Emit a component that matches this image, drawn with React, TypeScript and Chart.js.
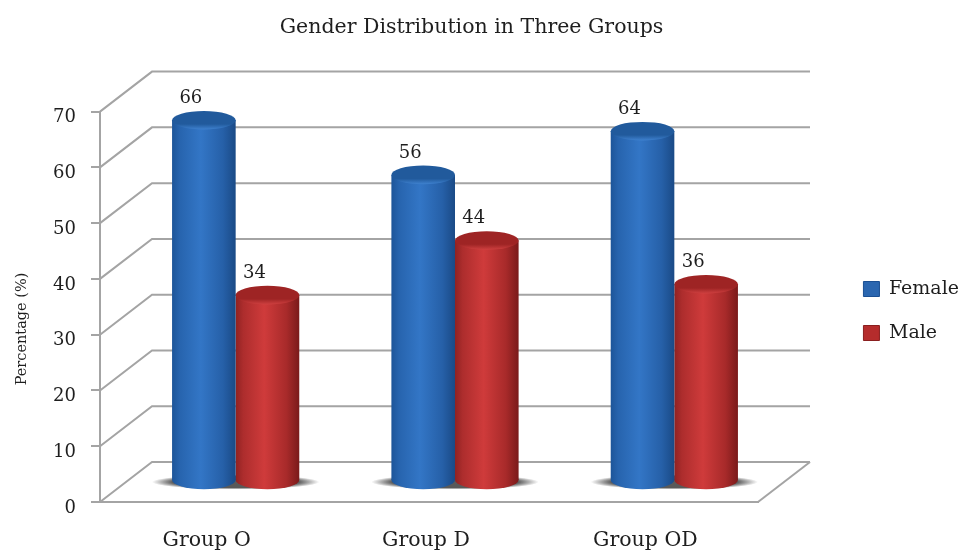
import React, { useEffect, useRef } from "react";
import { Chart, registerables } from "chart.js";

Chart.register(...registerables);

const categories = ["Group O", "Group D", "Group OD"];
const female = [66, 56, 64];
const male = [34, 44, 36];
const yTitle = "Percentage (%)";
const chartTitle = "Gender Distribution in Three Groups";
const FONT = '"DejaVu Serif", serif';
const TEXT = "#1e1e1e";
const GRID = "#a4a4a4";

// 3D geometry of the box, as screen offsets
const DEPTH_X = 52;
const DEPTH_Y = -40;
const BAR_DX = 26;
const BAR_BASE = 481;
const BAR_K = 0.98;
const RY = 9.5;
const CAT_PCT = 0.58;

const blueStops: [number, string][] = [[0, "#1d5599"], [0.12, "#2764ae"], [0.45, "#3376c6"], [0.8, "#2660a8"], [1, "#1a4a86"]];
const redStops: [number, string][] = [[0, "#8f2222"], [0.12, "#ad2d2d"], [0.45, "#cf3b3b"], [0.8, "#a82a2a"], [1, "#7a1a1a"]];
const topColors = [["#215a9c", "#3f82d0"], ["#9e2424", "#cf4040"]];

function bodyFill(stops: [number, string][], dsIndex: number) {
  return (c: any) => {
    const chart = c.chart;
    const sx = chart.scales.x;
    if (!chart.chartArea || !sx) return stops[2][1];
    const w = ((sx.width / categories.length) * CAT_PCT) / 2;
    const center = sx.getPixelForValue(c.dataIndex ?? 0) + (dsIndex === 0 ? -w / 2 : w / 2);
    const g = chart.ctx.createLinearGradient(center - w / 2, 0, center + w / 2, 0);
    stops.forEach(([p, col]) => g.addColorStop(p, col));
    return g;
  };
}

const mapY = (area: any, y: number) => BAR_BASE + (y - area.bottom) * BAR_K;

const box3d = {
  id: "box3d",
  afterLayout(chart: any) {
    if (chart.titleBlock) {
      chart.titleBlock.left -= 10;
      chart.titleBlock.right -= 10;
    }
    if (chart.legend) {
      chart.legend.top += 33;
      chart.legend.bottom += 33;
      chart.legend.left += 6;
      chart.legend.right += 6;
    }
  },
  beforeDatasetsDraw(chart: any) {
    const { ctx, chartArea: a, scales } = chart;
    const y = scales.y;
    ctx.save();
    ctx.strokeStyle = GRID;
    ctx.lineWidth = 2;
    y.ticks.forEach((t: any) => {
      const py = y.getPixelForValue(t.value);
      ctx.beginPath();
      ctx.moveTo(a.left, py);
      ctx.lineTo(a.left + DEPTH_X, py + DEPTH_Y);
      ctx.lineTo(a.right + DEPTH_X, py + DEPTH_Y);
      ctx.stroke();
    });
    ctx.beginPath();
    ctx.moveTo(a.right, a.bottom);
    ctx.lineTo(a.right + DEPTH_X, a.bottom + DEPTH_Y);
    ctx.stroke();
    // soft floor shadow under each pair of bars
    scales.x.ticks.forEach((_: any, i: number) => {
      const cx = scales.x.getPixelForValue(i) + BAR_DX;
      const w = (scales.x.width / categories.length) * CAT_PCT;
      ctx.save();
      ctx.translate(cx, BAR_BASE + 1);
      ctx.scale(1, 0.09);
      const r = w / 2 + 20;
      const g = ctx.createRadialGradient(0, 0, r * 0.75, 0, 0, r);
      g.addColorStop(0, "rgba(60,60,60,0.85)");
      g.addColorStop(1, "rgba(60,60,60,0)");
      ctx.fillStyle = g;
      ctx.beginPath();
      ctx.arc(0, 0, r, 0, Math.PI * 2);
      ctx.fill();
      ctx.restore();
    });
    ctx.restore();
  },
  beforeDatasetDraw(chart: any, args: any) {
    const { ctx, chartArea: a } = chart;
    ctx.save();
    ctx.translate(BAR_DX, BAR_BASE);
    ctx.scale(1, BAR_K);
    ctx.translate(0, -a.bottom);
    args.meta.data.forEach((el: any) => {
      ctx.fillStyle = el.options.backgroundColor;
      ctx.beginPath();
      ctx.ellipse(el.x, el.base, el.width / 2, RY, 0, 0, Math.PI * 2);
      ctx.fill();
    });
  },
  afterDatasetDraw(chart: any, args: any) {
    const { ctx } = chart;
    const cols = topColors[args.index];
    args.meta.data.forEach((el: any) => {
      const g = ctx.createLinearGradient(0, el.y - RY, 0, el.y + RY);
      g.addColorStop(0, cols[0]);
      g.addColorStop(0.7, cols[0]);
      g.addColorStop(1, cols[1]);
      ctx.fillStyle = g;
      ctx.beginPath();
      ctx.ellipse(el.x, el.y, el.width / 2, RY, 0, 0, Math.PI * 2);
      ctx.fill();
    });
    ctx.restore();
  },
  afterDatasetsDraw(chart: any) {
    const { ctx, chartArea: a } = chart;
    ctx.save();
    ctx.fillStyle = TEXT;
    ctx.font = `18px ${FONT}`;
    ctx.textAlign = "center";
    ctx.textBaseline = "middle";
    chart.data.datasets.forEach((ds: any, i: number) => {
      chart.getDatasetMeta(i).data.forEach((el: any, j: number) => {
        ctx.fillText(String(ds.data[j]), el.x + BAR_DX - 13, mapY(a, el.y) - 22);
      });
    });
    ctx.translate(22, 329);
    ctx.rotate(-Math.PI / 2);
    ctx.font = `14.5px ${FONT}`;
    ctx.fillText(yTitle, 0, 0);
    ctx.restore();
  },
};

export default function App() {
  const ref = useRef<HTMLCanvasElement>(null);
  useEffect(() => {
    const chart = new Chart(ref.current as HTMLCanvasElement, {
      type: "bar",
      data: {
        labels: categories,
        datasets: [
          { label: "Female", data: female, backgroundColor: bodyFill(blueStops, 0) as any, clip: false as any },
          { label: "Male", data: male, backgroundColor: bodyFill(redStops, 1) as any, clip: false as any },
        ],
      },
      plugins: [box3d],
      options: {
        responsive: false,
        animation: false,
        datasets: { bar: { barPercentage: 1, categoryPercentage: CAT_PCT } },
        layout: { padding: 0 },
        plugins: {
          tooltip: { enabled: false },
          title: {
            display: true,
            text: chartTitle,
            color: TEXT,
            font: { family: FONT, size: 20.5, weight: "normal" },
            padding: { top: 15, bottom: 72 },
          },
          legend: {
            position: "right",
            labels: {
              color: TEXT,
              font: { family: FONT, size: 19 },
              boxWidth: 16,
              boxHeight: 15,
              padding: 25,
              generateLabels: () => [
                { text: "Female", fillStyle: "#2a66b0", strokeStyle: "#1a4f93", lineWidth: 1, datasetIndex: 0, fontColor: TEXT },
                { text: "Male", fillStyle: "#b52c2c", strokeStyle: "#8a1f1f", lineWidth: 1, datasetIndex: 1, fontColor: TEXT },
              ],
            },
          },
        },
        scales: {
          x: {
            grid: { display: false },
            border: { display: true, color: GRID, width: 2 },
            ticks: { color: TEXT, font: { family: FONT, size: 20.5 }, padding: 18, maxRotation: 0, labelOffset: -3 },
            afterFit: (s: any) => { s.height = 54; },
          },
          y: {
            min: 0,
            max: 70,
            grid: { drawOnChartArea: false, drawTicks: true, tickLength: 9, color: GRID, lineWidth: 2 },
            border: { display: true, color: GRID, width: 2 },
            ticks: { stepSize: 10, color: TEXT, font: { family: FONT, size: 18 }, padding: 15, labelOffset: 6 },
            afterFit: (s: any) => { s.width = 100; },
          },
          y2: {
            type: "linear",
            position: "right",
            display: true,
            grid: { display: false },
            border: { display: false },
            ticks: { display: false },
            afterFit: (s: any) => { s.width = 205 - (s.chart.legend?.width ?? 100); },
          },
        },
      } as any,
    });
    return () => chart.destroy();
  }, []);
  return (
    <div style={{ position: "fixed", left: 0, top: 0, width: 963, height: 556, background: "#fff" }}>
      <canvas ref={ref} width={963} height={556} style={{ display: "block" }} />
    </div>
  );
}
